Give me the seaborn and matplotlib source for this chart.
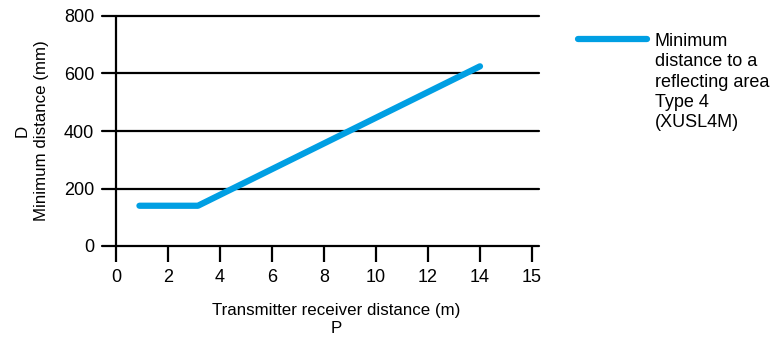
import numpy as np
import pandas as pd
import seaborn as sns
import matplotlib.pyplot as plt
from matplotlib.legend_handler import HandlerLine2D

# data
distance_m = [0.9, 3.15, 14.0]
min_distance_mm = [140, 140, 625]
series_label = "Minimum\ndistance to a\nreflecting area\nType 4\n(XUSL4M)"

# the last tick sits one step further out but is labelled 15
x_ticks = [0, 2, 4, 6, 8, 10, 12, 14, 16]
x_tick_labels = ["0", "2", "4", "6", "8", "10", "12", "14", "15"]
y_ticks = [0, 200, 400, 600, 800]

BLUE = "#009fe3"
FS = 13
LABEL_FS = 12.2


class TopHandler(HandlerLine2D):
    # put the legend line next to the first text row instead of the middle
    def create_artists(self, legend, orig_handle, xdescent, ydescent,
                       width, height, fontsize, trans):
        arts = super().create_artists(legend, orig_handle, xdescent, ydescent,
                                      width, height, fontsize, trans)
        for a in arts:
            a.set_ydata(np.asarray(a.get_ydata()) + 2 * 1.25 * fontsize - 1.5)
        return arts


def main():
    sns.set_theme(style="white")
    plt.rcParams["font.family"] = ["Liberation Sans", "DejaVu Sans"]
    plt.rcParams["text.color"] = "black"
    plt.rcParams["axes.labelcolor"] = "black"
    plt.rcParams["xtick.color"] = "black"
    plt.rcParams["ytick.color"] = "black"

    df = pd.DataFrame({"x": distance_m, "y": min_distance_mm})

    fig = plt.figure(figsize=(7.73, 3.43), dpi=100)
    ax = fig.add_axes([102 / 773, 1 - 246 / 343, 437 / 773, 230 / 343])

    for y in y_ticks:
        ax.axhline(y, color="black", lw=1.6, clip_on=False, zorder=1)
    ax.axvline(0, color="black", lw=1.6, clip_on=False, zorder=1)

    sns.lineplot(data=df, x="x", y="y", ax=ax, color=BLUE, lw=4.5,
                 solid_capstyle="round", label=series_label, legend=False,
                 zorder=3)

    ax.set_xlim(-0.54, 16.27)
    ax.set_ylim(0, 800)
    for s in ax.spines.values():
        s.set_visible(False)

    ax.set_xticks(x_ticks)
    ax.set_xticklabels(x_tick_labels)
    ax.set_yticks(y_ticks)
    ax.tick_params(axis="x", direction="out", length=11.5, width=1.6,
                   color="black", bottom=True, labelsize=FS, pad=5)
    ax.tick_params(axis="y", length=0, labelsize=FS, pad=5.5)

    ax.set_xlabel("Transmitter receiver distance (m)\nP", fontsize=LABEL_FS,
                  linespacing=1.2)
    ax.xaxis.set_label_coords(0.537, -0.25)
    ax.set_ylabel("D\nMinimum distance (mm)", fontsize=LABEL_FS, labelpad=11,
                  linespacing=1.35)

    handles, labels = ax.get_legend_handles_labels()
    leg = fig.legend(handles, labels, loc="upper left",
                     bbox_to_anchor=(571 / 773, 1 - 26 / 343),
                     frameon=False, fontsize=FS, handlelength=3.8,
                     handletextpad=0.45, borderaxespad=0,
                     handler_map={handles[0]: TopHandler()})
    for t in leg.get_texts():
        t.set_linespacing(1.25)

    fig.savefig("out.png", dpi=100, facecolor="white")


if __name__ == "__main__":
    main()
